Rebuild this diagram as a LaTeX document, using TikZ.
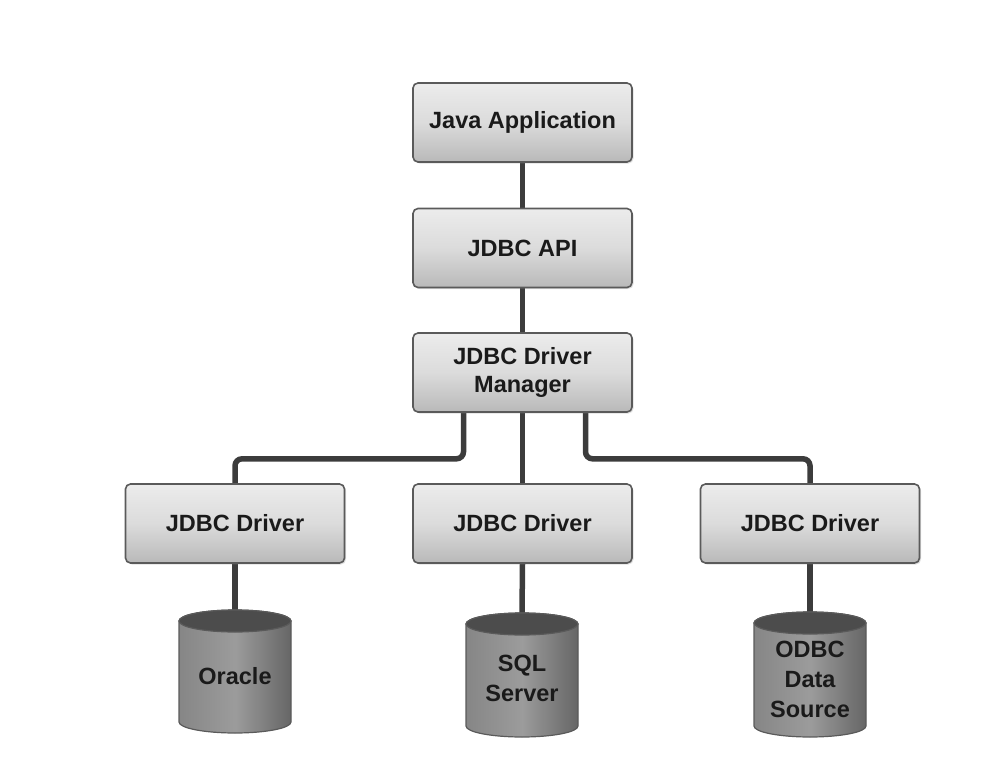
\documentclass[tikz,border=0pt]{standalone}
\usepackage{fontspec}
\setmainfont{Liberation Sans}
\usetikzlibrary{backgrounds,shadows,calc}
\definecolor{linkc}{HTML}{3C3C3C}
\definecolor{boxedge}{HTML}{5A5A5A}
\definecolor{txtc}{HTML}{1A1A1A}
\tikzset{
  box/.style={draw=boxedge, line width=1.6pt, rounded corners=5pt,
    top color=gray!15, bottom color=gray!55, middle color=gray!28,
    minimum width=219pt, minimum height=79pt, inner sep=0pt,
    align=center, text=txtc,
    font=\fontsize{23.5}{28}\selectfont\bfseries,
    drop shadow={shadow xshift=1.5pt, shadow yshift=-1.5pt, opacity=0.25}},
  link/.style={draw=linkc, line width=5.5pt, rounded corners=7pt},
  cylbody/.style={draw=boxedge, line width=1.2pt, left color=gray!95, right color=gray!80!black, middle color=gray!78},
  cyltop/.style={draw=boxedge, line width=1.2pt, fill=gray!60!black},
  cyltext/.style={align=center, text=txtc, inner sep=0pt,
    font=\fontsize{23.5}{30}\selectfont\bfseries},
}
\newcommand{\dbcyl}[4]{% cx, top-center y, bottom-center y, name
  \path[cylbody] (#1-56,#2) -- (#1-56,#3) arc[start angle=180, end angle=360, x radius=56, y radius=11] -- (#1+56,#2) arc[start angle=0, end angle=180, x radius=56, y radius=11] -- cycle;
  \path[cyltop] (#1,#2) ellipse[x radius=56, y radius=11];
  \coordinate (#4top) at (#1,#2+11);
}
\begin{document}
\begin{tikzpicture}[x=1pt,y=1pt]
\useasboundingbox (0,0) rectangle (996,-776);
\node[box] (java) at (522.5,-122.5) {Java Application};
\node[box] (api)  at (522.5,-248) {JDBC API};
\node[box] (mgr)  at (522.5,-372.5) {JDBC Driver\\Manager};
\node[box] (drvL) at (235,-523.5) {JDBC Driver};
\node[box] (drvM) at (522.5,-523.5) {JDBC Driver};
\node[box] (drvR) at (810,-523.5) {JDBC Driver};

\dbcyl{235}{-621}{-722}{ora}
\dbcyl{522}{-624}{-726}{sql}
\dbcyl{810}{-623}{-726}{odbc}
\node[cyltext] (oracle) at (235,-676) {Oracle};
\node[cyltext] (sqlsrv) at (522,-678) {SQL\\Server};
\node[cyltext] (odbcds) at (810,-679) {ODBC\\Data\\Source};

\begin{pgfonlayer}{background}
\draw[link] (java) -- (api);
\draw[link] (api) -- (mgr);
\draw[link] (mgr.south) -- (drvM.north);
\draw[link] ([xshift=-59pt]mgr.south) -- ++(0,-46) -| (drvL.north);
\draw[link] ([xshift=63pt]mgr.south) -- ++(0,-46) -| (drvR.north);
\draw[link] (drvL.south) -- (oratop);
\draw[link] (drvM.south) -- (sqltop);
\draw[link] (drvR.south) -- (odbctop);
\end{pgfonlayer}
\end{tikzpicture}
\end{document}
